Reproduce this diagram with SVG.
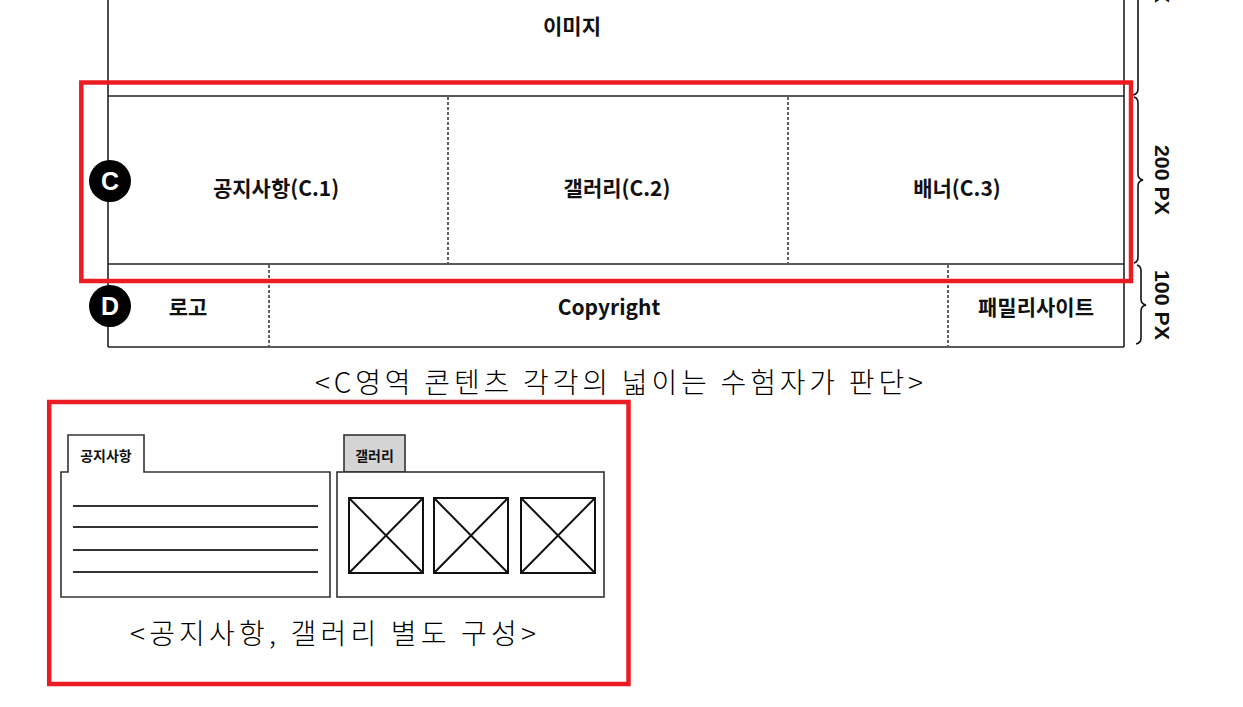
<svg xmlns="http://www.w3.org/2000/svg" width="1243" height="707" viewBox="0 0 1243 707">
<style>
.ln{stroke:#222;stroke-width:1.6;fill:none}
.dash{stroke:#222;stroke-width:1.4;stroke-dasharray:3 2;fill:none}
.brace{stroke:#111;stroke-width:1.6;fill:none}
.red{stroke:#ed1c24;stroke-width:4.5;fill:none}
.lbl{font-family:"Noto Sans CJK KR","Noto Sans",sans-serif;font-weight:bold;font-size:21px;fill:#111;text-anchor:middle}
.badge{fill:#000}
.badgeT{font-family:"Liberation Sans","Noto Sans",sans-serif;font-weight:bold;font-size:25px;fill:#fff;text-anchor:middle}
.px{font-family:"Liberation Sans",sans-serif;font-weight:bold;font-size:21px;fill:#111;text-anchor:middle}
.cap{font-family:"Noto Sans CJK KR",sans-serif;font-weight:300;font-size:28px;fill:#000}
.box{stroke:#333;stroke-width:1.6;fill:#fff}
.tabT{font-family:"Noto Sans CJK KR",sans-serif;font-weight:bold;font-size:14px;fill:#111;text-anchor:middle}
.img{stroke:#111;stroke-width:2;fill:#fff}
.row{stroke:#333;stroke-width:2}
</style>

<g id="frame">
<line class="ln" x1="108" y1="0" x2="108" y2="347"/>
<line class="ln" x1="1124" y1="0" x2="1124" y2="347"/>
<line class="ln" x1="108" y1="96" x2="1124" y2="96"/>
<line class="ln" x1="108" y1="264" x2="1124" y2="264"/>
<line class="ln" x1="108" y1="347" x2="1124" y2="347"/>
</g>

<g id="image-row">
<text class="lbl" x="572" y="34">이미지</text>
</g>

<g id="c-row">
<line class="dash" x1="448" y1="97" x2="448" y2="263"/>
<line class="dash" x1="788" y1="97" x2="788" y2="263"/>
<text class="lbl" x="276" y="196">공지사항(C.1)</text>
<text class="lbl" x="617" y="196">갤러리(C.2)</text>
<text class="lbl" x="957" y="196">배너(C.3)</text>
</g>

<g id="d-row">
<line class="dash" x1="269" y1="265" x2="269" y2="346"/>
<line class="dash" x1="948" y1="265" x2="948" y2="346"/>
<text class="lbl" x="188" y="315">로고</text>
<text class="lbl" x="609" y="315">Copyright</text>
<text class="lbl" x="1036" y="315">패밀리사이트</text>
</g>

<g id="badge-c">
<circle class="badge" cx="110" cy="181" r="21"/>
<text class="badgeT" x="110" y="190">C</text>
</g>
<g id="badge-d">
<circle class="badge" cx="110" cy="306" r="21"/>
<text class="badgeT" x="110" y="315">D</text>
</g>

<g id="dimensions">
<path class="brace" d="M1138,0 L1138,89 Q1138,94 1133,95"/>
<path class="brace" d="M1134,97 Q1138,98 1138,103 L1138,174 Q1138,179 1143,180 Q1138,181 1138,186 L1138,257 Q1138,262 1134,263"/>
<path class="brace" d="M1137,265 Q1141,266 1141,271 L1141,299 Q1141,304 1146,305 Q1141,306 1141,311 L1141,338 Q1141,343 1136,344"/>
<text class="px" transform="translate(1155,3) rotate(90)" style="text-anchor:end">PX</text>
<text class="px" transform="translate(1155,180) rotate(90)" textLength="70" lengthAdjust="spacingAndGlyphs">200 PX</text>
<text class="px" transform="translate(1155,305) rotate(90)" textLength="70" lengthAdjust="spacingAndGlyphs">100 PX</text>
</g>

<g id="highlight-c">
<rect class="red" x="81.3" y="82.5" width="1049.7" height="198.5"/>
</g>

<g id="caption-1">
<text class="cap" x="315" y="393" textLength="608" lengthAdjust="spacing">&lt;C영역 콘텐츠 각각의 넓이는 수험자가 판단&gt;</text>
</g>

<g id="notice-panel">
<path class="box" d="M61,597 L61,472 L68,472 L68,435 L144,435 L144,472 L330,472 L330,597 Z"/>
<text class="tabT" x="106" y="461">공지사항</text>
<line class="row" x1="73" y1="506" x2="318" y2="506"/>
<line class="row" x1="73" y1="527" x2="318" y2="527"/>
<line class="row" x1="73" y1="550" x2="318" y2="550"/>
<line class="row" x1="73" y1="572" x2="318" y2="572"/>
</g>

<g id="gallery-panel">
<rect class="box" x="344" y="435" width="61" height="37" style="fill:#d4d4d4"/>
<text class="tabT" x="374.5" y="461">갤러리</text>
<rect class="box" x="337" y="472" width="267" height="125"/>
<rect class="img" x="349" y="498" width="74" height="75"/>
<path class="img" d="M349,498 L423,573 M423,498 L349,573"/>
<rect class="img" x="434" y="498" width="74" height="75"/>
<path class="img" d="M434,498 L508,573 M508,498 L434,573"/>
<rect class="img" x="521" y="498" width="74" height="75"/>
<path class="img" d="M521,498 L595,573 M595,498 L521,573"/>
</g>

<g id="caption-2">
<text class="cap" x="130" y="644" textLength="406" lengthAdjust="spacing">&lt;공지사항, 갤러리 별도 구성&gt;</text>
</g>

<g id="highlight-panels">
<rect class="red" x="49.2" y="402" width="579.3" height="282"/>
</g>
</svg>
